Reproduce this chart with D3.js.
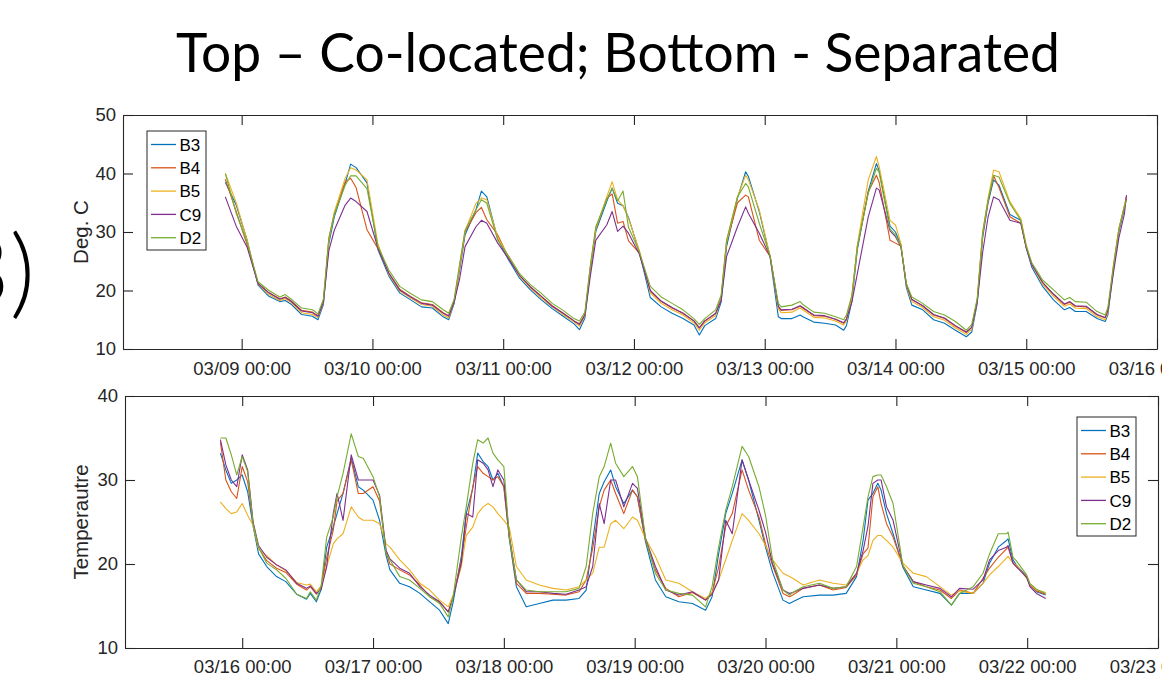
<!DOCTYPE html>
<html>
<head>
<meta charset="utf-8">
<script src="https://cdn.jsdelivr.net/npm/d3@7"></script>
<style>
body { margin: 0; background: #fff; }
svg { display: block; }
</style>
</head>
<body>
<svg width="1162" height="674"></svg>
<script>
var seriesNames = ["B3", "B4", "B5", "C9", "D2"]
var seriesColors = ["#0072BD", "#D95319", "#EDB120", "#7E2F8E", "#77AC30"]

var tickHours = [0, 24, 48, 72, 96, 120, 144, 168]
var topTickLabels = ["03/09 00:00", "03/10 00:00", "03/11 00:00", "03/12 00:00",
    "03/13 00:00", "03/14 00:00", "03/15 00:00", "03/16 00:00"]
var bottomTickLabels = ["03/16 00:00", "03/17 00:00", "03/18 00:00", "03/19 00:00",
    "03/20 00:00", "03/21 00:00", "03/22 00:00", "03/23 00:00"]
var topYTicks = [10, 20, 30, 40, 50]
var bottomYTicks = [10, 20, 30, 40]

// top panel: hours after 03/09 00:00
var topHours = [-3, -1, 1, 3, 5, 7, 8, 9, 11, 13,
    14, 15, 16, 17, 19, 20, 21, 23, 25, 27,
    29, 31, 33, 35, 37, 38, 39, 40, 41, 43,
    44, 45, 47, 49, 51, 53, 55, 57, 59, 61,
    62, 63, 64, 65, 67, 68, 69, 70, 71, 73,
    75, 77, 79, 81, 83, 84, 85, 87, 88, 89,
    91, 92.5, 93, 95, 97, 98.5, 99, 101, 102.5, 103,
    105, 107, 109, 110.5, 111, 112, 113, 115, 116.5, 117,
    119, 120, 121, 122, 123, 125, 127, 129, 131, 133,
    134, 135, 136, 137, 138, 139, 141, 143, 144, 145,
    147, 149, 151, 152, 153, 155, 157, 158.5, 159, 160,
    161, 162, 162.4]
var topB3 = [38.5, 34.6, 28.6, 20.9, 19.0, 18.1, 18.3, 17.7, 15.9, 15.6,
    15.0, 17.6, 28.0, 32.6, 38.3, 41.6, 41.0, 38.4, 27.0, 22.5,
    19.6, 18.4, 17.2, 17.0, 15.5, 15.0, 17.8, 23.5, 29.5, 33.8,
    37.0, 36.0, 28.8, 25.2, 22.1, 20.1, 18.4, 16.9, 15.6, 14.3,
    13.3, 15.3, 23.5, 30.1, 35.2, 37.5, 34.9, 34.5, 32.5, 26.5,
    18.8, 17.2, 16.1, 15.2, 14.1, 12.4, 14.0, 15.2, 18.0, 27.5,
    35.8, 40.3, 39.5, 33.5, 25.6, 15.5, 15.2, 15.2, 15.8, 15.5,
    14.6, 14.4, 14.1, 13.2, 14.0, 18.2, 27.0, 37.0, 41.7, 40.5,
    31.0, 30.0, 27.8, 20.5, 17.5, 16.7, 15.0, 14.4, 13.2, 12.1,
    12.9, 17.8, 29.0, 35.0, 38.9, 38.0, 33.0, 32.0, 27.3, 24.0,
    20.7, 18.4, 16.7, 17.1, 16.4, 16.4, 15.2, 14.7, 15.9, 23.5,
    30.0, 34.0, 36.0]
var topB4 = [39.0, 33.5, 27.8, 21.2, 19.6, 18.6, 18.9, 18.3, 16.6, 16.3,
    15.7, 18.1, 28.8, 33.2, 38.6, 39.2, 37.6, 30.4, 27.2, 23.0,
    20.2, 19.0, 17.9, 17.6, 16.2, 15.7, 18.2, 24.0, 30.0, 33.3,
    34.2, 32.1, 29.5, 25.6, 22.5, 20.6, 19.0, 17.4, 16.1, 14.8,
    14.3, 15.9, 24.0, 30.5, 35.8, 36.5, 31.5, 31.8, 28.5, 26.4,
    19.9, 18.1, 17.0, 16.1, 14.8, 13.6, 14.8, 16.0, 18.8, 28.2,
    35.0, 36.3, 36.0, 28.6, 25.8, 17.2, 16.6, 16.7, 17.3, 17.0,
    15.7, 15.6, 15.1, 14.4, 15.1, 18.9, 27.5, 36.8, 39.7, 38.5,
    28.6, 28.1, 27.6, 21.0, 18.4, 17.4, 15.8, 15.2, 13.9, 12.8,
    13.7, 18.3, 29.6, 35.3, 39.6, 37.6, 32.6, 31.5, 27.4, 24.4,
    21.3, 19.3, 17.6, 18.0, 17.3, 17.2, 15.8, 15.3, 16.6, 24.0,
    30.5, 34.3, 36.0]
var topB5 = [40.0, 35.0, 28.6, 21.1, 19.3, 18.3, 18.6, 18.0, 16.2, 15.9,
    15.4, 17.9, 28.6, 33.4, 39.2, 41.0, 40.6, 38.9, 28.0, 22.8,
    19.9, 18.7, 17.6, 17.3, 15.8, 15.3, 18.0, 24.0, 30.2, 34.9,
    35.8, 35.5, 29.0, 25.8, 22.4, 20.4, 18.7, 17.2, 15.9, 14.6,
    13.9, 15.7, 24.0, 30.6, 36.0, 38.6, 35.5, 34.5, 32.3, 26.8,
    19.6, 17.8, 16.7, 15.8, 14.5, 13.2, 14.5, 15.7, 18.6, 28.3,
    36.0, 39.7, 38.9, 33.8, 25.8, 16.9, 16.2, 16.3, 17.0, 16.7,
    15.4, 15.3, 14.8, 14.1, 14.8, 18.8, 27.8, 38.9, 42.9, 41.2,
    32.0, 31.2, 28.0, 20.8, 18.1, 17.1, 15.5, 14.9, 13.6, 12.5,
    13.4, 18.2, 29.8, 35.8, 40.6, 40.3, 35.2, 32.3, 27.8, 24.5,
    21.1, 19.0, 17.3, 17.7, 17.0, 16.9, 15.5, 15.0, 16.3, 24.0,
    30.5, 34.5, 36.0]
var topC9 = [36.0, 31.0, 27.4, 21.2, 19.6, 18.5, 18.8, 18.2, 16.5, 16.2,
    15.6, 18.0, 26.8, 30.3, 34.6, 35.8, 35.2, 33.5, 27.3, 23.0,
    20.1, 18.9, 17.8, 17.5, 16.1, 15.6, 18.0, 22.0, 27.5, 30.9,
    32.0, 31.5, 28.1, 25.4, 22.6, 20.6, 19.0, 17.3, 16.1, 14.8,
    14.2, 15.8, 22.5, 28.6, 31.2, 33.5, 30.1, 31.0, 29.8, 26.2,
    20.0, 18.2, 17.1, 16.1, 14.8, 13.6, 14.8, 16.1, 18.3, 25.8,
    30.9, 34.3, 33.2, 29.8, 25.8, 17.3, 16.7, 16.8, 17.4, 17.1,
    15.8, 15.7, 15.1, 14.5, 15.1, 18.0, 22.9, 32.6, 37.5, 37.2,
    30.2, 29.2, 27.5, 21.0, 18.5, 17.4, 15.9, 15.3, 14.0, 12.9,
    13.7, 18.0, 26.5, 32.6, 36.0, 35.5, 32.0, 31.5, 27.3, 24.5,
    21.4, 19.4, 17.7, 18.1, 17.4, 17.3, 15.9, 15.4, 16.6, 23.0,
    29.0, 33.0, 36.3]
var topD2 = [40.0, 33.2, 28.2, 21.5, 20.0, 18.9, 19.3, 18.6, 17.0, 16.7,
    16.0, 18.5, 29.0, 33.0, 38.0, 39.6, 39.6, 37.4, 27.6, 23.5,
    20.7, 19.5, 18.4, 18.1, 16.7, 16.1, 18.5, 24.5, 30.3, 33.8,
    35.5, 34.9, 28.6, 25.9, 22.9, 21.0, 19.5, 17.8, 16.6, 15.2,
    14.8, 16.3, 24.3, 30.9, 35.5, 37.5, 35.3, 37.0, 30.8, 26.6,
    20.7, 18.9, 17.8, 16.7, 15.2, 14.2, 15.2, 16.7, 19.2, 28.6,
    36.0, 38.3, 37.7, 31.5, 25.9, 17.8, 17.2, 17.5, 18.1, 17.6,
    16.3, 16.1, 15.5, 15.0, 15.8, 19.2, 27.5, 36.6, 40.9, 40.2,
    30.5, 29.5, 27.6, 21.2, 18.9, 17.8, 16.4, 15.8, 14.7, 13.2,
    14.2, 18.6, 30.0, 35.5, 39.7, 39.4, 34.9, 32.0, 27.6, 24.8,
    21.8, 20.1, 18.4, 18.8, 18.1, 18.0, 16.4, 15.8, 17.2, 24.3,
    30.5, 34.3, 35.5]

// bottom panel: hours after 03/16 00:00
var bottomHours = [-4, -3, -2, -1, 0, 1, 2, 3, 4.5, 6.3,
    8, 10, 11.8, 12.5, 13.6, 14.5, 15.5, 16.7, 17.4, 18.5,
    20, 21.3, 22.2, 24, 25.2, 26.4, 27.1, 28.9, 30.7, 32.6,
    34.4, 36.2, 37.8, 38.7, 40.2, 41.1, 42.3, 43.2, 44.2, 45.1,
    46, 46.9, 48, 49, 50.3, 52.1, 54.5, 57, 59.4, 61.8,
    63.1, 64.3, 65.5, 66.4, 67.6, 68.5, 70, 71.6, 72.5, 74,
    75.8, 77.7, 80.1, 82.6, 85, 86.2, 87.4, 88.7, 89.9, 91.7,
    92.9, 94.8, 96, 97.3, 99.2, 100.4, 101, 102.9, 105.9, 108.4,
    110.8, 112.7, 113.9, 114.8, 115.7, 116.6, 117.2, 118.2, 119.4, 121.2,
    123.1, 125.5, 128, 130.1, 131.6, 134.1, 135.9, 137.1, 138.7, 140.2,
    140.5, 141.4, 142, 143.9, 144.5, 145.7, 147.4]
var bottomB3 = [33.2, 31.2, 29.6, 30.0, 30.6, 28.6, 24.5, 21.2, 19.7, 18.5,
    17.9, 16.4, 15.8, 16.5, 15.5, 17.0, 22.0, 24.4, 26.0, 28.4,
    32.6, 29.2, 28.8, 27.6, 25.2, 21.0, 19.3, 17.7, 17.3, 16.5,
    15.5, 14.5, 12.9, 15.5, 20.9, 26.0, 29.0, 33.2, 32.2, 31.6,
    30.0, 30.8, 29.2, 23.0, 17.3, 14.9, 15.3, 15.7, 15.7, 15.9,
    16.9, 22.8, 28.4, 29.8, 31.2, 29.2, 27.2, 28.8, 28.0, 22.6,
    18.1, 16.1, 15.5, 15.3, 14.5, 16.1, 21.2, 26.0, 28.4, 32.4,
    30.0, 25.2, 22.0, 19.0, 15.7, 15.3, 15.5, 16.1, 16.3, 16.3,
    16.5, 18.5, 22.8, 27.6, 28.4, 29.6, 28.8, 26.0, 23.6, 19.6,
    17.3, 16.9, 16.5, 15.1, 16.5, 16.5, 17.7, 20.1, 22.0, 22.8,
    23.0, 20.5, 19.9, 18.5, 17.5, 16.7, 16.3]
var bottomB4 = [34.5, 30.0, 28.6, 27.8, 31.6, 29.8, 24.8, 21.9, 20.4, 19.5,
    19.0, 17.6, 16.9, 17.3, 16.4, 17.2, 20.8, 24.0, 27.5, 28.4,
    32.4, 28.4, 28.4, 29.2, 27.5, 21.4, 20.0, 19.3, 18.7, 17.5,
    16.1, 15.5, 14.3, 16.1, 20.5, 24.4, 29.2, 31.6, 30.8, 30.4,
    30.0, 30.4, 29.2, 23.2, 17.7, 16.5, 16.5, 16.4, 16.3, 16.7,
    18.1, 21.9, 26.8, 28.8, 30.0, 28.4, 26.0, 28.8, 28.0, 22.8,
    19.3, 17.1, 16.1, 16.6, 15.7, 16.6, 19.6, 24.5, 26.0, 31.2,
    28.8, 25.6, 22.4, 19.8, 16.5, 16.1, 16.3, 17.1, 17.5, 16.9,
    17.2, 18.7, 21.2, 21.9, 28.0, 29.2, 27.2, 24.8, 23.2, 19.8,
    17.9, 17.3, 16.9, 15.9, 16.9, 16.5, 18.3, 19.5, 20.8, 21.8,
    22.0, 20.1, 19.7, 18.5, 17.5, 16.8, 16.4]
var bottomB5 = [27.4, 26.6, 26.0, 26.2, 27.2, 25.8, 24.6, 21.8, 21.0, 19.9,
    19.2, 17.8, 17.5, 17.6, 16.7, 17.4, 19.7, 22.4, 23.0, 23.6,
    26.8, 25.6, 25.2, 25.2, 24.8, 22.4, 22.0, 20.5, 19.3, 17.7,
    16.9, 15.7, 14.9, 16.3, 19.7, 23.4, 24.4, 26.0, 26.8, 27.2,
    26.8, 26.0, 25.2, 24.4, 19.7, 18.1, 17.5, 17.1, 16.9, 17.3,
    18.1, 18.9, 22.0, 22.0, 24.8, 25.2, 24.2, 25.6, 25.2, 23.0,
    20.9, 18.1, 17.7, 16.7, 15.9, 16.6, 18.1, 20.5, 22.8, 26.0,
    25.2, 23.6, 22.2, 20.5, 18.9, 18.5, 18.3, 17.5, 18.1, 17.7,
    17.5, 18.9, 20.5, 21.0, 22.8, 23.4, 23.4, 22.8, 22.0, 20.1,
    18.9, 18.5, 17.3, 16.3, 16.8, 16.5, 17.7, 18.7, 19.7, 20.7,
    20.9, 20.1, 19.9, 18.3, 17.6, 16.9, 16.6]
var bottomC9 = [34.8, 31.8, 30.0, 29.2, 33.0, 31.2, 25.0, 22.2, 20.8, 19.9,
    19.3, 17.7, 17.1, 17.4, 16.5, 17.0, 19.7, 26.0, 28.4, 25.2,
    33.0, 30.0, 30.0, 30.0, 28.2, 21.6, 20.6, 19.5, 18.9, 17.3,
    16.3, 15.5, 14.3, 16.0, 20.1, 26.0, 25.6, 32.4, 32.0, 31.2,
    29.2, 31.2, 30.0, 23.4, 18.1, 16.7, 16.7, 16.5, 16.4, 16.9,
    17.3, 19.7, 27.2, 24.8, 30.0, 30.0, 26.8, 29.6, 29.0, 23.0,
    19.7, 16.9, 16.3, 16.7, 15.7, 16.4, 18.1, 25.2, 23.6, 32.4,
    30.0, 26.4, 23.8, 20.0, 16.9, 16.5, 16.6, 17.1, 17.5, 17.1,
    17.3, 18.9, 21.6, 24.5, 29.6, 30.0, 30.0, 26.8, 25.2, 19.8,
    17.9, 17.5, 17.1, 16.1, 17.1, 17.0, 18.1, 20.5, 21.6, 22.0,
    22.2, 20.1, 19.7, 18.4, 17.3, 16.5, 15.9]
var bottomD2 = [35.0, 35.0, 33.0, 30.6, 32.8, 31.0, 24.8, 22.0, 20.1, 19.3,
    18.3, 16.4, 15.9, 16.7, 15.7, 17.5, 23.2, 25.6, 28.0, 30.8,
    35.5, 32.8, 32.6, 30.4, 28.0, 21.2, 20.5, 18.5, 18.1, 17.1,
    16.1, 15.3, 13.7, 16.1, 23.2, 26.8, 32.0, 34.8, 34.4, 35.0,
    33.2, 32.4, 31.6, 23.2, 18.1, 16.9, 16.7, 16.7, 16.7, 17.1,
    19.7, 26.0, 30.4, 31.6, 34.4, 32.0, 30.4, 31.6, 30.4, 23.0,
    18.9, 16.9, 16.5, 16.3, 14.9, 17.3, 22.0, 26.4, 29.2, 34.0,
    32.8, 29.2, 25.8, 20.5, 16.9, 16.3, 16.6, 17.3, 17.7, 17.1,
    17.3, 19.7, 24.4, 28.0, 30.4, 30.6, 30.6, 29.2, 27.2, 19.8,
    17.7, 17.3, 16.7, 15.1, 16.5, 17.3, 18.9, 21.2, 23.6, 23.6,
    23.8, 20.8, 20.4, 18.7, 17.7, 17.0, 16.5]

var svg = d3.select("svg")
var axisColor = "#262626"
var axisFont = "'Liberation Sans', Arial, sans-serif"

function drawPanel(opt) {
    var scX = d3.scaleLinear().domain(opt.xDomain).range([opt.left, opt.right])
    var scY = d3.scaleLinear().domain(opt.yDomain).range([opt.bottom, opt.top])

    var g = svg.append("g")

    g.append("clipPath").attr("id", opt.id + "-clip")
        .append("rect")
        .attr("x", opt.left).attr("y", opt.top)
        .attr("width", opt.right - opt.left).attr("height", opt.bottom - opt.top)

    var lines = g.append("g").attr("clip-path", "url(#" + opt.id + "-clip)")
    opt.series.forEach(function (vals, k) {
        var pts = opt.hours.map((h, i) => [h, vals[i]])
        var lnMkr = d3.line().x(d => scX(d[0])).y(d => scY(d[1]))
        lines.append("path")
            .attr("fill", "none")
            .attr("stroke", seriesColors[k])
            .attr("stroke-width", 1.1)
            .attr("stroke-linejoin", "round")
            .attr("d", lnMkr(pts))
    })

    // axes, ticks pointing inward like matlab
    g.append("g").attr("transform", `translate(0, ${opt.bottom})`)
        .call(d3.axisBottom(scX).tickValues(tickHours)
            .tickFormat((d, i) => opt.xLabels[i])
            .tickSizeInner(-10).tickSizeOuter(0).tickPadding(opt.xPad))
    g.append("g").attr("transform", `translate(0, ${opt.top})`)
        .call(d3.axisTop(scX).tickValues(tickHours).tickFormat("")
            .tickSizeInner(-10).tickSizeOuter(0))
    g.append("g").attr("transform", `translate(${opt.left}, 0)`)
        .call(d3.axisLeft(scY).tickValues(opt.yTicks).tickFormat(d3.format("d"))
            .tickSizeInner(-10).tickSizeOuter(0).tickPadding(7))
    g.append("g").attr("transform", `translate(${opt.right}, 0)`)
        .call(d3.axisRight(scY).tickValues(opt.yTicks).tickFormat("")
            .tickSizeInner(-10).tickSizeOuter(0))

    g.selectAll(".domain, .tick line").attr("stroke", axisColor).attr("stroke-width", 1.1)
    g.selectAll(".tick text")
        .attr("fill", axisColor)
        .style("font-family", axisFont)
        .style("font-size", "18.5px")

    g.append("text")
        .attr("transform", `translate(88, ${(opt.top + opt.bottom) / 2}) rotate(-90)`)
        .attr("text-anchor", "middle")
        .attr("fill", axisColor)
        .style("font-family", axisFont)
        .style("font-size", "20.5px")
        .text(opt.yTitle)

    // legend
    var lg = g.append("g").attr("transform", `translate(${opt.legX}, ${opt.legY})`)
    lg.append("rect")
        .attr("width", 59).attr("height", 119)
        .attr("fill", "#fff").attr("stroke", axisColor).attr("stroke-width", 1)
    seriesNames.forEach(function (name, k) {
        var yy = 13.5 + k * 23.3
        lg.append("line")
            .attr("x1", 4).attr("x2", 29).attr("y1", yy).attr("y2", yy)
            .attr("stroke", seriesColors[k]).attr("stroke-width", 1.3)
        lg.append("text")
            .attr("x", 32.5).attr("y", yy).attr("dy", "0.36em")
            .attr("fill", "#000")
            .style("font-family", axisFont)
            .style("font-size", "17px")
            .text(name)
    })
}

drawPanel({
    id: "top", left: 123, right: 1157, top: 115, bottom: 349,
    xDomain: [-21.78, 168], yDomain: [10, 50], yTicks: topYTicks,
    xLabels: topTickLabels, yTitle: "Deg. C", xPad: 12.5,
    hours: topHours, series: [topB3, topB4, topB5, topC9, topD2],
    legX: 147, legY: 131
})

drawPanel({
    id: "bot", left: 125, right: 1158, top: 396, bottom: 648,
    xDomain: [-21.5, 168], yDomain: [10, 40], yTicks: bottomYTicks,
    xLabels: bottomTickLabels, yTitle: "Temperautre", xPad: 11.5,
    hours: bottomHours, series: [bottomB3, bottomB4, bottomB5, bottomC9, bottomD2],
    legX: 1077, legY: 417
})

// title, fitted to the width it has in the slide
var title = svg.append("text")
    .attr("x", 618).attr("y", 72)
    .attr("text-anchor", "middle")
    .attr("fill", "#000")
    .style("font-family", "Lato, 'Open Sans', sans-serif")
    .style("font-size", "52px")
    .text("Top \u2013 Co-located; Bottom - Separated")
var tw = title.node().getComputedTextLength()
title.style("font-size", (52 * 884 / tw) + "px")

// slide numbering cut at the left edge
svg.append("text")
    .attr("x", 35).attr("y", 306)
    .attr("text-anchor", "end")
    .attr("fill", "#000")
    .style("font-family", "Lato, 'Open Sans', sans-serif")
    .style("font-size", "98px")
    .style("font-weight", 300)
    .text("3)")
</script>
</body>
</html>
